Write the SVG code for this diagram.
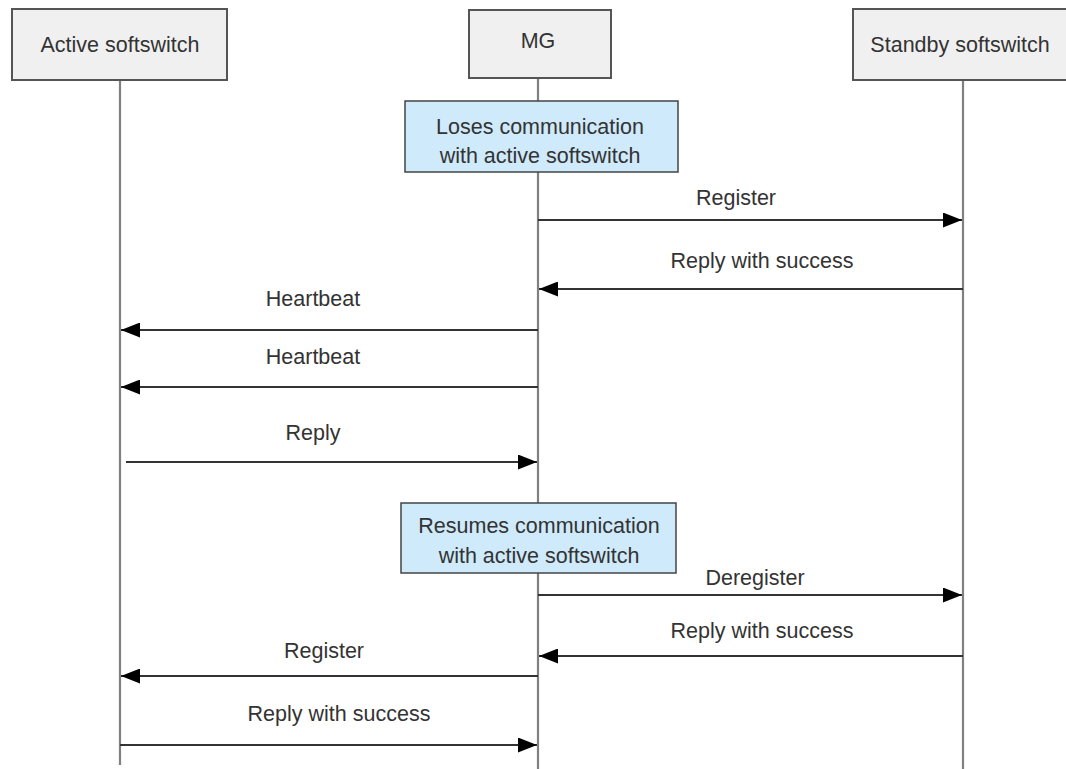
<svg xmlns="http://www.w3.org/2000/svg" width="1066" height="769" viewBox="0 0 1066 769">
  <style>
    .actor { fill: #f0f0f0; stroke: #555; stroke-width: 2; }
    .note { fill: #cfeafb; stroke: #444; stroke-width: 1.5; }
    .life { stroke: #808080; stroke-width: 2.2; fill: none; }
    .msg { stroke: #333; stroke-width: 1.8; fill: none; marker-end: url(#arrow); }
    text { font-family: "Liberation Sans", Arial, sans-serif; font-size: 21.5px; fill: #333; text-anchor: middle; }
  </style>
  <defs>
    <marker id="arrow" viewBox="0 0 19 15" refX="19" refY="7.5" markerWidth="19" markerHeight="15" markerUnits="userSpaceOnUse" orient="auto">
      <path d="M0,0 L19,7.5 L0,15 Z" fill="#000"/>
    </marker>
  </defs>

  <rect width="1066" height="769" fill="#fff"/>

  <!-- lifelines -->
  <g id="lifelines">
    <line class="life" x1="120" y1="80" x2="120" y2="765"/>
    <line class="life" x1="538" y1="78" x2="538" y2="769"/>
    <line class="life" x1="963" y1="80" x2="963" y2="769"/>
  </g>

  <g id="active">
    <rect class="actor" x="12" y="9" width="215" height="71"/>
    <text x="120" y="52">Active softswitch</text>
  </g>
  <g id="mg">
    <rect class="actor" x="469" y="10" width="142" height="68"/>
    <text x="538" y="48">MG</text>
  </g>
  <g id="standby">
    <rect class="actor" x="853" y="9" width="220" height="71"/>
    <text x="960" y="52">Standby softswitch</text>
  </g>

  <g id="note-loses">
    <rect class="note" x="405" y="101" width="273" height="71"/>
    <text x="540" y="134">Loses communication</text>
    <text x="540" y="163">with active softswitch</text>
  </g>
  <g id="note-resumes">
    <rect class="note" x="401" y="503" width="275" height="70"/>
    <text x="539" y="533">Resumes communication</text>
    <text x="539" y="563">with active softswitch</text>
  </g>

  <g id="connectors">
    <line class="msg" x1="538" y1="220" x2="962" y2="220"/>
    <line class="msg" x1="963" y1="289" x2="539" y2="289"/>
    <line class="msg" x1="538" y1="330" x2="121" y2="330"/>
    <line class="msg" x1="538" y1="387" x2="121" y2="387"/>
    <line class="msg" x1="126" y1="462" x2="537" y2="462"/>
    <line class="msg" x1="538" y1="595" x2="962" y2="595"/>
    <line class="msg" x1="963" y1="656" x2="539" y2="656"/>
    <line class="msg" x1="538" y1="676" x2="121" y2="676"/>
    <line class="msg" x1="120" y1="745" x2="537" y2="745"/>
  </g>

  <g id="labels">
    <text x="736" y="205">Register</text>
    <text x="762" y="268">Reply with success</text>
    <text x="313" y="306">Heartbeat</text>
    <text x="313" y="364">Heartbeat</text>
    <text x="313" y="440">Reply</text>
    <text x="755" y="585">Deregister</text>
    <text x="762" y="638">Reply with success</text>
    <text x="324" y="658">Register</text>
    <text x="339" y="721">Reply with success</text>
  </g>
</svg>
